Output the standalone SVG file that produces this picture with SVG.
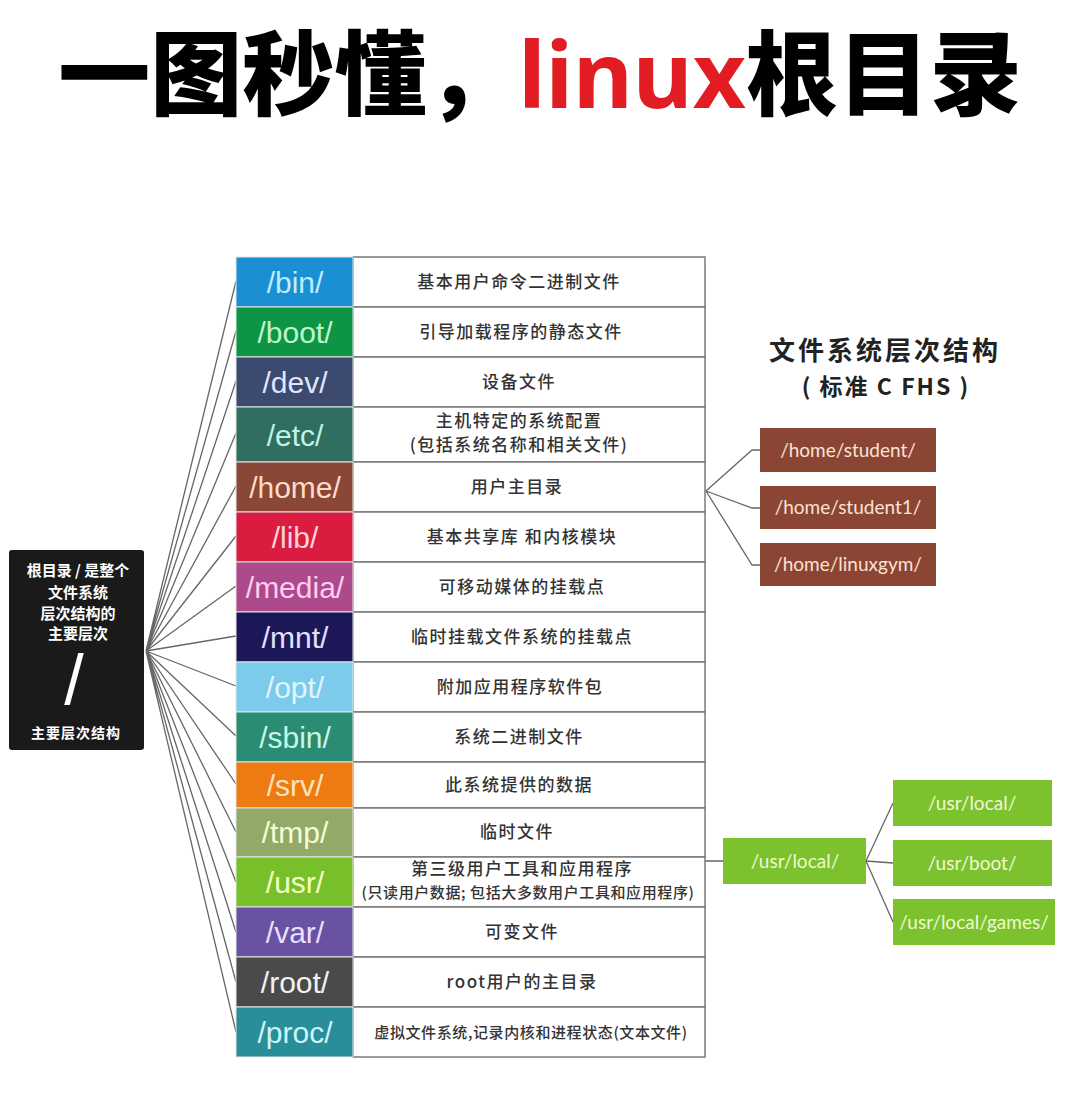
<svg xmlns="http://www.w3.org/2000/svg" width="1080" height="1111" viewBox="0 0 1080 1111">
<style>
.title{font-family:"Noto Sans CJK SC","Noto Sans",sans-serif;font-weight:900;font-size:92px;fill:#000}
.dir{font-family:"Liberation Sans",Arial,sans-serif;font-size:30px;text-anchor:middle}
.desc{font-family:"Noto Sans CJK SC",sans-serif;font-weight:500;font-size:17px;letter-spacing:1.5px;fill:#333;text-anchor:middle}
.descs{font-family:"Noto Sans CJK SC",sans-serif;font-weight:500;font-size:15px;letter-spacing:0.6px;fill:#333;text-anchor:middle}
.cell{fill:#fff;stroke:#7a7a7a;stroke-width:1.5}
.col{stroke:#e6e6e6;stroke-width:1}
.conn{fill:none;stroke:#666;stroke-width:1.3}
.wt{font-family:"Noto Sans CJK SC",sans-serif;font-weight:700;fill:#fff;text-anchor:middle}
.brown{fill:#8b4535}
.bt{font-family:Lato,"Liberation Sans",sans-serif;font-size:19px;fill:#fbe2d4;text-anchor:middle}
.green{fill:#7cc22e}
.gt{font-family:Lato,"Liberation Sans",sans-serif;font-size:19px;fill:#eef9d2;text-anchor:middle}
.hdr{font-family:"Noto Sans CJK SC",sans-serif;font-weight:700;fill:#222;text-anchor:middle}
</style>
<rect width="1080" height="1111" fill="#fff"/>
<text class="title" x="540" y="108" text-anchor="middle">一图秒懂，<tspan fill="#e11d23" font-family="Noto Sans,sans-serif" font-weight="700">linux</tspan>根目录</text>

<g id="connectors">
<path class="conn" d="M146 651 L236 281 M146 651 L236 331 M146 651 L236 381 M146 651 L236 433 M146 651 L236 486 M146 651 L236 536 M146 651 L236 586 M146 651 L236 636 M146 651 L236 686 M146 651 L236 736 M146 651 L236 784 M146 651 L236 832 M146 651 L236 882 M146 651 L236 932 M146 651 L236 982 M146 651 L236 1032"/>
<path class="conn" d="M706 491 L752 450 L760 450 M706 491 L752 508 L760 508 M706 491 L752 565 L760 565"/>
<path class="conn" d="M705 861 L723 861 M866 861 L893 803 M866 861 L893 863 M866 861 L893 922"/>
</g>

<g id="root">
<rect x="9" y="550" width="135" height="200" rx="3" fill="#1a1a1a"/>
<text class="wt" x="78" y="576" font-size="15">根目录 / 是整个</text>
<text class="wt" x="78" y="598" font-size="15">文件系统</text>
<text class="wt" x="78" y="619" font-size="15">层次结构的</text>
<text class="wt" x="78" y="639" font-size="15">主要层次</text>
<text x="74" y="704" font-family="Liberation Sans,sans-serif" font-size="70" fill="#fff" text-anchor="middle">/</text>
<text class="wt" x="76" y="738" font-size="14" letter-spacing="1">主要层次结构</text>
</g>

<g id="row-bin"><rect class="cell" x="353" y="257" width="352" height="50"/><rect class="col" x="236" y="257" width="117" height="50" fill="#1b8fd4"/><text class="dir" x="295" y="293" fill="#bdeeff">/bin/</text><text class="desc" x="519" y="288">基本用户命令二进制文件</text></g>
<g id="row-boot"><rect class="cell" x="353" y="307" width="352" height="50"/><rect class="col" x="236" y="307" width="117" height="50" fill="#0d9444"/><text class="dir" x="295" y="343" fill="#bff7cd">/boot/</text><text class="desc" x="521" y="338">引导加载程序的静态文件</text></g>
<g id="row-dev"><rect class="cell" x="353" y="357" width="352" height="50"/><rect class="col" x="236" y="357" width="117" height="50" fill="#3b4a6e"/><text class="dir" x="295" y="393" fill="#e0e6ff">/dev/</text><text class="desc" x="519" y="388">设备文件</text></g>
<g id="row-etc"><rect class="cell" x="353" y="407" width="352" height="55"/><rect class="col" x="236" y="407" width="117" height="55" fill="#2f6e60"/><text class="dir" x="295" y="446" fill="#bff3e3">/etc/</text><text class="desc" x="519" y="427" font-size="16" letter-spacing="2">主机特定的系统配置</text><text class="desc" x="519" y="451" font-size="16" letter-spacing="2">(包括系统名称和相关文件)</text></g>
<g id="row-home"><rect class="cell" x="353" y="462" width="352" height="50"/><rect class="col" x="236" y="462" width="117" height="50" fill="#8a4636"/><text class="dir" x="295" y="498" fill="#ffdcc6">/home/</text><text class="desc" x="517" y="493">用户主目录</text></g>
<g id="row-lib"><rect class="cell" x="353" y="512" width="352" height="50"/><rect class="col" x="236" y="512" width="117" height="50" fill="#d91c40"/><text class="dir" x="295" y="548" fill="#ffd3dc">/lib/</text><text class="desc" x="522" y="543">基本共享库 和内核模块</text></g>
<g id="row-media"><rect class="cell" x="353" y="562" width="352" height="50"/><rect class="col" x="236" y="562" width="117" height="50" fill="#ad4a8c"/><text class="dir" x="295" y="598" fill="#ffcdef">/media/</text><text class="desc" x="522" y="593">可移动媒体的挂载点</text></g>
<g id="row-mnt"><rect class="cell" x="353" y="612" width="352" height="50"/><rect class="col" x="236" y="612" width="117" height="50" fill="#1c1858"/><text class="dir" x="295" y="648" fill="#e3e0ff">/mnt/</text><text class="desc" x="522" y="643">临时挂载文件系统的挂载点</text></g>
<g id="row-opt"><rect class="cell" x="353" y="662" width="352" height="50"/><rect class="col" x="236" y="662" width="117" height="50" fill="#7ccbeb"/><text class="dir" x="295" y="698" fill="#def6ff">/opt/</text><text class="desc" x="520" y="693">附加应用程序软件包</text></g>
<g id="row-sbin"><rect class="cell" x="353" y="712" width="352" height="50"/><rect class="col" x="236" y="712" width="117" height="50" fill="#2b8c74"/><text class="dir" x="295" y="748" fill="#c6f7e4">/sbin/</text><text class="desc" x="519" y="743">系统二进制文件</text></g>
<g id="row-srv"><rect class="cell" x="353" y="762" width="352" height="46"/><rect class="col" x="236" y="762" width="117" height="46" fill="#ee7b12"/><text class="dir" x="295" y="796" fill="#ffe3b8">/srv/</text><text class="desc" x="519" y="791">此系统提供的数据</text></g>
<g id="row-tmp"><rect class="cell" x="353" y="808" width="352" height="49"/><rect class="col" x="236" y="808" width="117" height="49" fill="#93a96a"/><text class="dir" x="295" y="843" fill="#f2ffd6">/tmp/</text><text class="desc" x="517" y="838">临时文件</text></g>
<g id="row-usr"><rect class="cell" x="353" y="857" width="352" height="50"/><rect class="col" x="236" y="857" width="117" height="50" fill="#78c02a"/><text class="dir" x="295" y="893" fill="#f2ffc6">/usr/</text><text class="desc" x="522" y="875" font-size="16" letter-spacing="1">第三级用户工具和应用程序</text><text class="descs" x="528" y="898">(只读用户数据; 包括大多数用户工具和应用程序)</text></g>
<g id="row-var"><rect class="cell" x="353" y="907" width="352" height="50"/><rect class="col" x="236" y="907" width="117" height="50" fill="#6a52a2"/><text class="dir" x="295" y="943" fill="#e8dfff">/var/</text><text class="desc" x="522" y="938">可变文件</text></g>
<g id="row-root"><rect class="cell" x="353" y="957" width="352" height="50"/><rect class="col" x="236" y="957" width="117" height="50" fill="#4a4a4a"/><text class="dir" x="295" y="993" fill="#f2f2f2">/root/</text><text class="desc" x="522" y="988">root用户的主目录</text></g>
<g id="row-proc"><rect class="cell" x="353" y="1007" width="352" height="50"/><rect class="col" x="236" y="1007" width="117" height="50" fill="#2a8e9a"/><text class="dir" x="295" y="1043" fill="#cdf5fa">/proc/</text><text class="descs" x="531" y="1038">虚拟文件系统,记录内核和进程状态(文本文件)</text></g>

<g id="fhs-title">
<text class="hdr" x="885" y="360" font-size="26" letter-spacing="3">文件系统层次结构</text>
<text class="hdr" x="886" y="395" font-size="23" letter-spacing="2">( 标准 C FHS )</text>
</g>

<g id="home-student"><rect class="brown" x="760" y="428" width="176" height="44"/><text class="bt" x="848" y="457">/home/student/</text></g>
<g id="home-student1"><rect class="brown" x="760" y="486" width="176" height="43"/><text class="bt" x="848" y="514">/home/student1/</text></g>
<g id="home-linuxgym"><rect class="brown" x="760" y="543" width="176" height="43"/><text class="bt" x="848" y="571">/home/linuxgym/</text></g>

<g id="usr-local-main"><rect class="green" x="723" y="838" width="143" height="46"/><text class="gt" x="795" y="868">/usr/local/</text></g>
<g id="usr-local"><rect class="green" x="893" y="780" width="159" height="46"/><text class="gt" x="972" y="810">/usr/local/</text></g>
<g id="usr-boot"><rect class="green" x="893" y="840" width="159" height="46"/><text class="gt" x="972" y="870">/usr/boot/</text></g>
<g id="usr-local-games"><rect class="green" x="893" y="899" width="162" height="46"/><text class="gt" x="974" y="929">/usr/local/games/</text></g>
</svg>
